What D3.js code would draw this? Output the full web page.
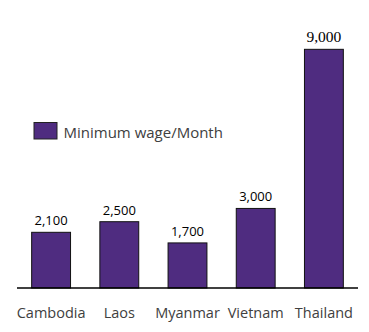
<!DOCTYPE html>
<html>
<head>
<meta charset="utf-8">
<script src="https://cdn.jsdelivr.net/npm/d3@7"></script>
<style>
  body { margin: 0; background: #fff; }
  svg { display: block; }
</style>
</head>
<body>
<svg id="chart" width="369" height="332"></svg>
<script>
// data
const countries = ['Cambodia', 'Laos', 'Myanmar', 'Vietnam', 'Thailand'];
const wages = [2100, 2500, 1700, 3000, 9000];
const seriesName = 'Minimum wage/Month';

const width = 369;
const height = 332;
const baseline = 288;
const barColour = '#4f2c80';

const svg = d3.select('#chart');

const x = d3.scaleBand()
    .domain(countries)
    .range([17, 358])
    .paddingInner(0.43)
    .paddingOuter(0.215);

const y = d3.scaleLinear()
    .domain([0, 10000])
    .range([baseline, 22.8]);

const format = d3.format(',');

const rows = countries.map((c, i) => ({ country: c, value: wages[i] }));

svg.selectAll('rect.bar')
    .data(rows)
    .enter()
    .append('rect')
    .attr('class', 'bar')
    .attr('x', d => x(d.country))
    .attr('y', d => y(d.value))
    .attr('width', x.bandwidth())
    .attr('height', d => baseline - y(d.value))
    .attr('fill', barColour)
    .attr('stroke', '#111')
    .attr('stroke-width', 1);

// value labels; the tallest one is in a serif face in the original
const maxValue = d3.max(wages);
svg.selectAll('text.value')
    .data(rows)
    .enter()
    .append('text')
    .attr('class', 'value')
    .attr('x', d => x(d.country) + x.bandwidth() / 2)
    .attr('y', d => y(d.value) - 7)
    .attr('text-anchor', 'middle')
    .style('font-family', d => d.value === maxValue
        ? '"Liberation Serif", "DejaVu Serif", "Times New Roman", serif'
        : '"Open Sans", sans-serif')
    .style('font-size', d => d.value === maxValue ? '15.5px' : '13px')
    .attr('fill', '#000')
    .text(d => format(d.value));

// x axis
const xAxis = svg.append('g')
    .attr('transform', `translate(0, ${baseline})`)
    .call(d3.axisBottom(x).tickSize(0).tickPadding(20));
xAxis.select('.domain')
    .attr('d', `M${x.range()[0]},0H${x.range()[1]}`)
    .attr('stroke', '#000')
    .attr('stroke-width', 1.5);
xAxis.selectAll('text')
    .attr('font-family', 'Open Sans')
    .attr('font-size', 14.5)
    .attr('fill', '#404040');

// legend
const legend = svg.append('g').attr('transform', 'translate(34, 122.5)');
legend.append('rect')
    .attr('width', 23)
    .attr('height', 16.5)
    .attr('fill', barColour)
    .attr('stroke', '#222')
    .attr('stroke-width', 1);
legend.append('text')
    .attr('x', 29.5)
    .attr('y', 15.8)
    .attr('font-family', 'Open Sans')
    .attr('font-size', 15)
    .attr('fill', '#404040')
    .text(seriesName);
</script>
</body>
</html>
